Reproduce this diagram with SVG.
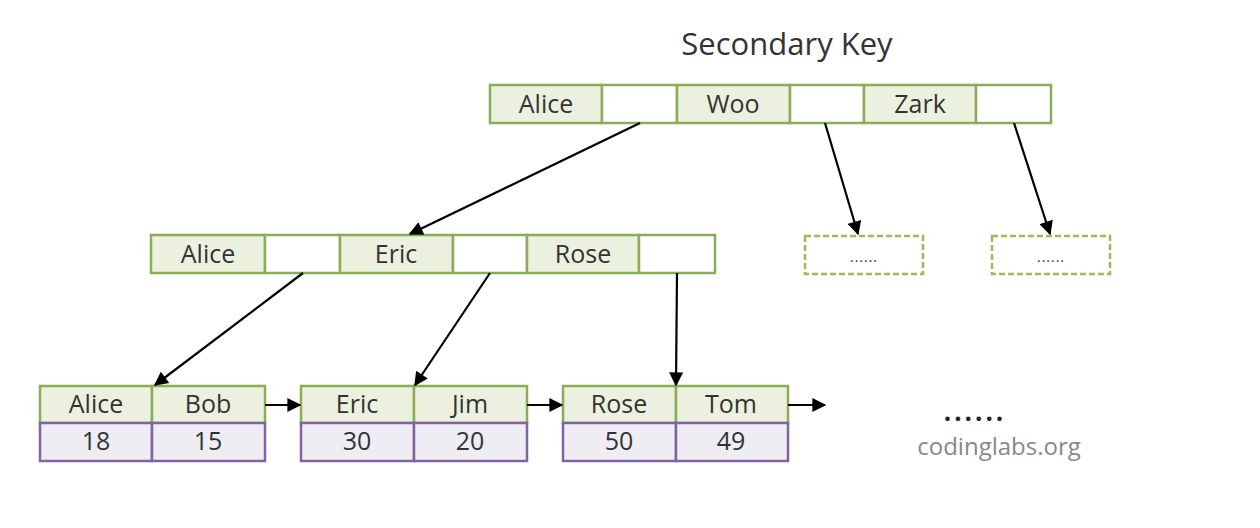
<svg xmlns="http://www.w3.org/2000/svg" width="1260" height="528" viewBox="0 0 1260 528">
<defs>
<marker id="ah" viewBox="0 0 10 10" refX="9" refY="5" markerWidth="16" markerHeight="14" orient="auto" markerUnits="userSpaceOnUse">
<path d="M0,0 L10,5 L0,10 z" fill="#000"/>
</marker>
<style>
text{font-family:"Open Sans","Noto Sans","Liberation Sans",sans-serif;fill:#333;text-anchor:middle}
.k{fill:#ebf1de;stroke:#8aad5a;stroke-width:2.5}
.e{fill:#fff;stroke:#8aad5a;stroke-width:2.5}
.v{fill:#efedf4;stroke:#8064a2;stroke-width:2.5}
.d{fill:#fff;stroke:#9bbb59;stroke-width:2.5;stroke-dasharray:6,3}
.t{font-size:25px}
.c{stroke:#000;stroke-width:2.2;fill:none}
</style>
</defs>
<rect width="1260" height="528" fill="#fff"/>
<text x="787" y="55" style="font-size:31px">Secondary Key</text>
<g id="root">
<rect class="k" x="490" y="85" width="112" height="38"/>
<rect class="e" x="602" y="85" width="75" height="38"/>
<rect class="k" x="677" y="85" width="113" height="38"/>
<rect class="e" x="790" y="85" width="74" height="38"/>
<rect class="k" x="864" y="85" width="112" height="38"/>
<rect class="e" x="976" y="85" width="75" height="38"/>
<text class="t" x="546" y="113">Alice</text>
<text class="t" x="733" y="113">Woo</text>
<text class="t" x="920" y="113">Zark</text>
</g>
<g id="mid">
<rect class="k" x="151" y="235" width="114" height="38"/>
<rect class="e" x="265" y="235" width="75" height="38"/>
<rect class="k" x="340" y="235" width="113" height="38"/>
<rect class="e" x="453" y="235" width="74" height="38"/>
<rect class="k" x="527" y="235" width="112" height="38"/>
<rect class="e" x="639" y="235" width="76" height="38"/>
<text class="t" x="208" y="263">Alice</text>
<text class="t" x="396" y="263">Eric</text>
<text class="t" x="583" y="263">Rose</text>
</g>
<g id="dash1">
<rect class="d" x="805" y="236" width="118" height="38"/>
<text x="864" y="262" style="font-size:14px;letter-spacing:1px">......</text>
</g>
<g id="dash2">
<rect class="d" x="992" y="236" width="118" height="38"/>
<text x="1051" y="262" style="font-size:14px;letter-spacing:1px">......</text>
</g>
<g id="leaf1">
<rect class="k" x="40" y="386" width="112" height="37"/>
<rect class="k" x="152" y="386" width="113" height="37"/>
<rect class="v" x="40" y="423" width="112" height="38"/>
<rect class="v" x="152" y="423" width="113" height="38"/>
<text class="t" x="96" y="413">Alice</text>
<text class="t" x="208" y="413">Bob</text>
<text class="t" x="96" y="450">18</text>
<text class="t" x="208" y="450">15</text>
</g>
<g id="leaf2">
<rect class="k" x="301" y="386" width="113" height="37"/>
<rect class="k" x="414" y="386" width="113" height="37"/>
<rect class="v" x="301" y="423" width="113" height="38"/>
<rect class="v" x="414" y="423" width="113" height="38"/>
<text class="t" x="357" y="413">Eric</text>
<text class="t" x="470" y="413">Jim</text>
<text class="t" x="357" y="450">30</text>
<text class="t" x="470" y="450">20</text>
</g>
<g id="leaf3">
<rect class="k" x="563" y="386" width="113" height="37"/>
<rect class="k" x="676" y="386" width="112" height="37"/>
<rect class="v" x="563" y="423" width="113" height="38"/>
<rect class="v" x="676" y="423" width="112" height="38"/>
<text class="t" x="619" y="413">Rose</text>
<text class="t" x="731" y="413">Tom</text>
<text class="t" x="619" y="450">50</text>
<text class="t" x="731" y="450">49</text>
</g>
<g id="connectors">
<line class="c" x1="640" y1="123" x2="410" y2="234" marker-end="url(#ah)"/>
<line class="c" x1="825" y1="123" x2="858" y2="234" marker-end="url(#ah)"/>
<line class="c" x1="1014" y1="123" x2="1050" y2="234" marker-end="url(#ah)"/>
<line class="c" x1="303" y1="273" x2="155" y2="385" marker-end="url(#ah)"/>
<line class="c" x1="490" y1="273" x2="415" y2="385" marker-end="url(#ah)"/>
<line class="c" x1="677" y1="273" x2="676" y2="385" marker-end="url(#ah)"/>
<line class="c" x1="265" y1="405" x2="300" y2="405" marker-end="url(#ah)"/>
<line class="c" x1="527" y1="405" x2="562" y2="405" marker-end="url(#ah)"/>
<line class="c" x1="788" y1="405" x2="825" y2="405" marker-end="url(#ah)"/>
</g>
<text x="975" y="421" style="font-size:26px;font-weight:bold;fill:#222;letter-spacing:3px">......</text>
<text x="999" y="455" style="font-size:24px;fill:#888">codinglabs.org</text>
</svg>
